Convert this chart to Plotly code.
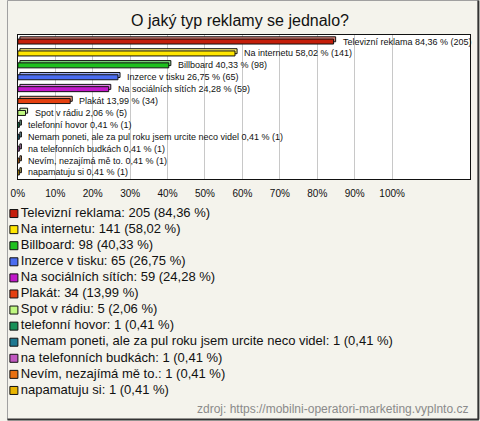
import plotly.graph_objects as go

categories = ["Televizní reklama", "Na internetu", "Billboard", "Inzerce v tisku",
              "Na sociálních sítích", "Plakát", "Spot v rádiu", "telefonní hovor",
              "Nemam poneti, ale za pul roku jsem urcite neco videl",
              "na telefonních budkách", "Nevím, nezajímá mě to.", "napamatuju si"]
counts = [205, 141, 98, 65, 59, 34, 5, 1, 1, 1, 1, 1]
percents = [84.36, 58.02, 40.33, 26.75, 24.28, 13.99, 2.06, 0.41, 0.41, 0.41, 0.41, 0.41]
colors = ["#c41e0a", "#ffe600", "#1ec01e", "#4a6cf0", "#c018c8", "#e44010",
          "#c0f880", "#189058", "#1e7890", "#c058c0", "#e87010", "#e8b400"]
tick_vals = [0, 10, 20, 30, 40, 50, 60, 70, 80, 90, 100]
tick_text = ["0%", "10%", "20%", "30%", "40%", "50%", "60%", "70%", "80%", "90%", "100%"]

def fmt(p):
    return f"{p:.2f}".replace(".", ",")

bar_labels = [f"{c} {fmt(p)} % ({n})" for c, p, n in zip(categories, percents, counts)]
legend_labels = [f"{c}: {n} ({fmt(p)} %)" for c, p, n in zip(categories, percents, counts)]

def lighten(h, f=0.45):
    r, g, b = int(h[1:3], 16), int(h[3:5], 16), int(h[5:7], 16)
    r = int(r + (255 - r) * f); g = int(g + (255 - g) * f); b = int(b + (255 - b) * f)
    return f"#{r:02x}{g:02x}{b:02x}"

FONT = "Liberation Sans, Arial, sans-serif"
BG = "#f4f3ec"
idx = list(range(len(categories)))

fig = go.Figure()
# 3D "depth" face of bars
fig.add_trace(go.Bar(
    y=idx, x=percents, base=0.55, orientation="h",
    width=0.42, offset=-0.40,
    marker=dict(color=[lighten(c) for c in colors], line=dict(color="#111", width=1)),
    showlegend=False, hoverinfo="skip"))
# front face
fig.add_trace(go.Bar(
    y=idx, x=percents, orientation="h",
    width=0.42, offset=-0.21,
    marker=dict(color=colors, line=dict(color="#111", width=1)),
    showlegend=False, hoverinfo="skip"))

for i, (p, lab) in enumerate(zip(percents, bar_labels)):
    fig.add_annotation(x=p, y=i, text=lab, xref="x", yref="y", showarrow=False,
                       xanchor="left", yanchor="middle", xshift=7, yshift=0,
                       font=dict(family=FONT, size=9, color="#111"))

# legend drawn as scatter traces on their own hidden axes
fig.add_trace(go.Scatter(
    x=[-1] * len(categories), y=idx, mode="markers",
    marker=dict(symbol="square", size=8, color=colors, line=dict(color="#111", width=1)),
    xaxis="x2", yaxis="y2", showlegend=False, hoverinfo="skip", cliponaxis=False))
fig.add_trace(go.Scatter(
    x=[6] * len(categories), y=idx, mode="text",
    text=legend_labels, textposition="middle right",
    textfont=dict(family=FONT, size=13, color="#111"),
    xaxis="x2", yaxis="y2", showlegend=False, hoverinfo="skip", cliponaxis=False))

L, R, T, B = 0, 10, 35, 10
W = 480 - L - R
H = 421 - T - B
def py(pix):
    return (421 - B - pix) / H
def px(pix):
    return (pix - L) / W

fig.update_layout(
    width=480, height=421,
    margin=dict(l=L, r=R, t=T, b=B),
    paper_bgcolor=BG, plot_bgcolor=BG,
    barmode="overlay",
    title=dict(text="O jaký typ reklamy se jednalo?", x=0.5, xref="container", xanchor="center",
               y=1 - 20 / 421, yanchor="middle",
               font=dict(family=FONT, size=16, color="#111")),
    xaxis=dict(range=[0, 120.8], tickvals=tick_vals, ticktext=tick_text,
               showgrid=True, gridcolor="#c8c8c8", gridwidth=1, zeroline=False,
               showline=True, linecolor="#111", linewidth=1, mirror=True,
               ticks="", ticklen=0, ticklabelstandoff=5,
               tickfont=dict(family=FONT, size=10, color="#111"),
               domain=[px(11), 1], anchor="y", fixedrange=True),
    yaxis=dict(range=[11.55, -0.55], showticklabels=False, showgrid=False, zeroline=False,
               showline=True, linecolor="#111", linewidth=1, mirror=True,
               domain=[py(179), 1], anchor="x", fixedrange=True),
    xaxis2=dict(range=[-8, 462], visible=False, domain=[0, 1], anchor="y2", fixedrange=True),
    yaxis2=dict(range=[11.5, -0.5], visible=False, domain=[py(398.5), py(205.5)],
                anchor="x2", fixedrange=True),
    showlegend=False,
)

# white background of the bar plot area (below grid lines)
fig.add_shape(type="rect", xref="x domain", yref="y domain", x0=0, x1=1, y0=0, y1=1,
              fillcolor="#ffffff", line=dict(width=0), layer="below")

fig.add_annotation(text="zdroj: https://mobilni-operatori-marketing.vyplnto.cz",
                   xref="paper", yref="paper", x=1, y=py(409), xanchor="right",
                   yanchor="middle", showarrow=False,
                   font=dict(family=FONT, size=12, color="#8a8a8a"))

# outer frame
fig.add_shape(type="rect", xref="paper", yref="paper",
              x0=px(0.5), x1=px(478.5), y0=py(419.5), y1=py(0.5),
              line=dict(color="#a0a0a0", width=1), layer="below")
fig.add_shape(type="line", xref="paper", yref="paper",
              x0=px(478.5), x1=px(478.5), y0=py(419.5), y1=py(0.5),
              line=dict(color="#333", width=2))
fig.add_shape(type="line", xref="paper", yref="paper",
              x0=px(0.5), x1=px(479), y0=py(419.5), y1=py(419.5),
              line=dict(color="#333", width=2))

fig.write_html("out.html", config={"displayModeBar": False},
               post_script="document.body.style.margin='0';document.body.style.overflow='hidden';")
